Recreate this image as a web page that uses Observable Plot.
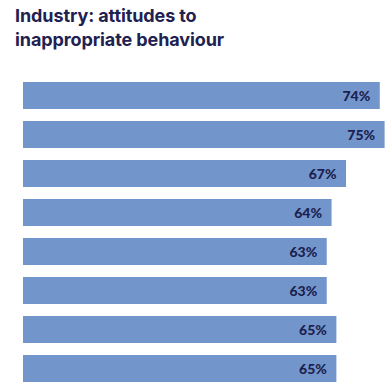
<!DOCTYPE html>
<html>
<head>
<meta charset="utf-8">
<script src="https://cdn.jsdelivr.net/npm/d3@7"></script>
<script src="https://cdn.jsdelivr.net/npm/@observablehq/plot@0.6"></script>
<style>
  html, body { margin: 0; padding: 0; background: #fff; overflow: hidden; }
  #title { position: absolute; left: 15px; top: 4px; font-family: Inter, "Open Sans", sans-serif; font-weight: 700; font-size: 18px; line-height: 24px; color: #1f2150; letter-spacing: -0.1px; }
  #chart { position: absolute; left: 0; top: 60px; }
</style>
</head>
<body>
<div id="title">Industry: attitudes to<br>inappropriate behaviour</div>
<div id="chart"></div>
<script>
const items = ["Item 1", "Item 2", "Item 3", "Item 4", "Item 5", "Item 6", "Item 7", "Item 8"];
const values = [74, 75, 67, 64, 63, 63, 65, 65];

const data = items.map((item, i) => ({item, value: values[i]}));

const chart = Plot.plot({
  width: 387,
  height: 338,
  marginLeft: 23,
  marginRight: 0,
  marginTop: 6,
  marginBottom: 0,
  x: {domain: [0, 75.5], axis: null},
  y: {domain: items, padding: 0.32, axis: null},
  style: {background: "transparent"},
  marks: [
    Plot.barX(data, {x: "value", y: "item", fill: "#7295cc"}),
    Plot.text(data, {
      x: "value", y: "item", text: d => d.value + "%",
      textAnchor: "end", dx: -10, dy: 1,
      fill: "#1c1f4e", fontSize: 14, fontWeight: 900,
      fontFamily: "Lato, sans-serif"
    })
  ]
});
document.getElementById("chart").appendChild(chart);
</script>
</body>
</html>
